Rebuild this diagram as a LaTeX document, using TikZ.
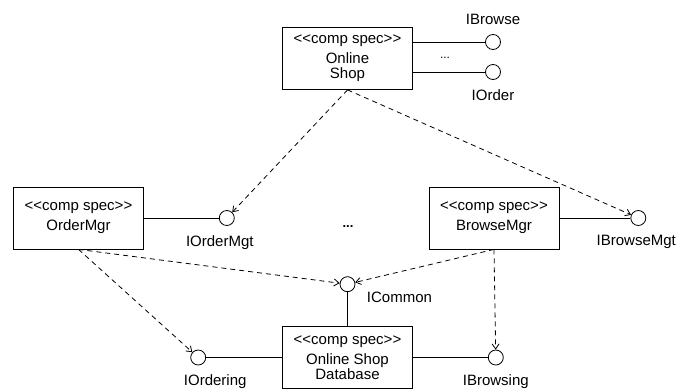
\documentclass[tikz,border=0pt]{standalone}
\usepackage{fontspec}
\setmainfont{Liberation Sans}
\newcommand{\compspec}{<\kern0pt<comp spec>\kern0pt>}
\usetikzlibrary{arrows.meta,positioning}
\tikzset{
  every picture/.style = {
    line width = 0.8pt,
    >={Straight Barb[length=5pt,width=7pt]},
    x = 1pt, y = -1pt
  }
  ,
  comp/.style = {
    rectangle,
    draw,
    align = center,
    font = \fontsize{15}{15}\selectfont,
    minimum width = 130pt,
    minimum height = 62pt,
    inner sep = 0pt
  }
  , % interface lollipops
  iface/.style = {
    circle,
    draw,
    fill = white,
    minimum size = 15pt,
    inner sep = 0pt
  }
  , % interface names
  iface-name/.style = {
    font = \fontsize{15}{15}\selectfont,
    inner sep = 0pt,
    label distance = 9pt
  }
  , % usage dependencies
  dep/.style = {
    ->,
    dash pattern = on 5pt off 4pt
  }
}

\begin{document}
\begin{tikzpicture}
\useasboundingbox (0,0) rectangle (689,391);

\node [comp] (shop) at (347.5,58.5) {\compspec\\[5pt]Online\\Shop};
\node [comp] (ordermgr) at (78.5,218) {\compspec\\[5pt]OrderMgr};
\node [comp] (browsemgr) at (494,218) {\compspec\\[5pt]BrowseMgr};
\node [comp] (db) at (347.5,357.5) {\compspec\\[5pt]Online Shop\\Database};

\node [iface, label = {[iface-name]above:IBrowse}] (ibrowse) at (493,42) {};
\node [iface, label = {[iface-name]below:IOrder}] (iorder) at (493,72) {};
\node [iface, right = 75pt of ordermgr,
       label = {[iface-name, xshift=-7pt]below:IOrderMgt}] (iordermgt) {};
\node [iface, right = 71pt of browsemgr,
       label = {[iface-name, xshift=-2pt]below:IBrowseMgt}] (ibrowsemgt) {};
\node [iface, above = 34pt of db,
       label = {[iface-name, label distance=0pt, xshift=52pt]below:ICommon}] (common) {};
\node [iface, left = 76pt of db,
       label = {[iface-name, xshift=17pt]below:IOrdering}] (iordering) {};
\node [iface, right = 75pt of db,
       label = {[iface-name]below:IBrowsing}] (ibrowsing) {};

\node [font = \fontsize{12}{12}\selectfont] (moreifaces) at (445,58) {...};
\node [font = \fontsize{13}{13}\selectfont\bfseries] (morecomps) at (348,227) {...};

% provided interfaces
\draw (shop.east |- ibrowse) -- (ibrowse);
\draw (shop.east |- iorder) -- (iorder);
\draw (ordermgr) -- (iordermgt);
\draw (browsemgr) -- (ibrowsemgt);
\draw (common) -- (db);
\draw (db) -- (iordering);
\draw (db) -- (ibrowsing);

% dependencies
\draw [dep] (shop.south) -- (iordermgt);
\draw [dep] (shop.south) -- (ibrowsemgt);
\draw [dep] (ordermgr.south) -- (common);
\draw [dep] (ordermgr.south) -- (iordering);
\draw [dep] (browsemgr.south) -- (common);
\draw [dep] (browsemgr.south) -- (ibrowsing);
\end{tikzpicture}
\end{document}
